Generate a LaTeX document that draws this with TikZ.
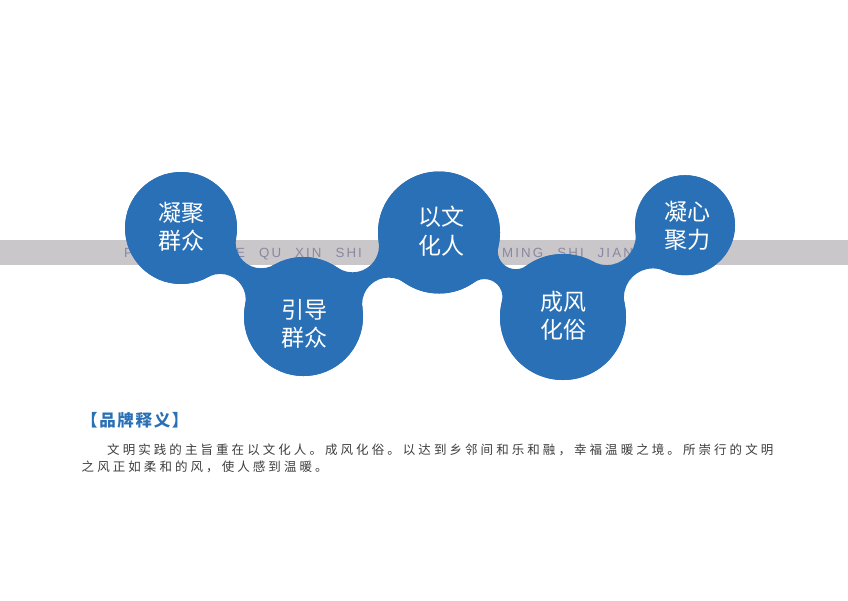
\documentclass[tikz,border=0pt]{standalone}
\usepackage{fontspec}
\usetikzlibrary{intersections}
\newfontfamily\cjk{Noto Sans CJK SC}
\newfontfamily\cjkbody[LetterSpace=24.5]{Noto Sans CJK SC}
\newfontfamily\cjktitle[LetterSpace=10]{Noto Sans CJK SC}
\newfontfamily\bandfont[LetterSpace=16,WordSpace=2.4]{Liberation Sans}
\definecolor{bubbleblue}{RGB}{42,112,182}
\definecolor{bandgray}{RGB}{201,199,201}
\definecolor{bandtext}{RGB}{138,136,160}
\definecolor{bodytext}{RGB}{62,62,62}
\newcommand\blobneck[5]{%
  \path[name path=na] (#1.center) circle[radius=#2pt+#5pt];
  \path[name path=nb] (#3.center) circle[radius=#4pt+#5pt];
  \path[name intersections={of=na and nb, by={f1,f2}}];
  \begin{scope}[even odd rule]
    \clip (-10,-10) rectangle (860,610) (f1) circle[radius=#5pt] (f2) circle[radius=#5pt];
    \fill[bubbleblue] (#1.center) -- (f1) -- (#3.center) -- (f2) -- cycle;
  \end{scope}}
\begin{document}
\begin{tikzpicture}[x=1pt,y=-1pt,
  bubble/.style={circle,fill=bubbleblue,draw=none,inner sep=0pt,outer sep=0pt},
  lbl/.style={text=white,align=center,inner sep=0pt,font=\cjk\fontsize{23}{28.5}\selectfont},
  bandlbl/.style={text=bandtext,anchor=base west,inner sep=0pt,font=\bandfont\fontsize{13.3}{16}\selectfont},
  bodylbl/.style={text=bodytext,anchor=west,inner sep=0pt,font=\cjkbody\fontsize{12.5}{15}\selectfont}]
\useasboundingbox (0,0) rectangle (848,600);
\fill[white] (0,0) rectangle (848,600);
% grey band
\fill[bandgray] (0,240) rectangle (848,265);
\node[bandlbl] (b1) at (124,257) {P};
\node[bandlbl] (b2) at (236,257) {E QU XIN SHI};
\node[bandlbl] (b3) at (502,257) {MING SHI JIAN};
% bubbles
\node[bubble,minimum size=112pt] (c1) at (181,228) {};
\node[bubble,minimum size=119pt] (c2) at (303.5,316.5) {};
\node[bubble,minimum size=122pt] (c3) at (439,232.5) {};
\node[bubble,minimum size=126pt] (c4) at (563,317) {};
\node[bubble,minimum size=100pt] (c5) at (685,225.2) {};
% necks
\blobneck{c1}{56}{c2}{59.5}{25.5}
\blobneck{c2}{59.5}{c3}{61}{26.5}
\blobneck{c3}{61}{c4}{63}{18}
\blobneck{c4}{63}{c5}{50}{29}
% redraw bubbles on top
\node[bubble,minimum size=112pt] at (c1.center) {};
\node[bubble,minimum size=119pt] at (c2.center) {};
\node[bubble,minimum size=122pt] at (c3.center) {};
\node[bubble,minimum size=126pt] at (c4.center) {};
\node[bubble,minimum size=100pt] at (c5.center) {};
% labels
\node[lbl] (t1) at (181,227) {凝聚\\群众};
\node[lbl] (t2) at (304,324) {引导\\群众};
\node[lbl] (t3) at (441,231) {以文\\化人};
\node[lbl] (t4) at (563,316) {成风\\化俗};
\node[lbl] (t5) at (687,226) {凝心\\聚力};
% text block
\node[text=bubbleblue,anchor=west,inner sep=0pt,font=\cjktitle\bfseries\fontsize{16.5}{18}\selectfont] (title) at (81,420) {【品牌释义】};
\node[bodylbl] (l1) at (107,450) {文明实践的主旨重在以文化人。成风化俗。以达到乡邻间和乐和融，幸福温暖之境。所崇行的文明};
\node[bodylbl] (l2) at (81.5,467) {之风正如柔和的风，使人感到温暖。};
\end{tikzpicture}
\end{document}
